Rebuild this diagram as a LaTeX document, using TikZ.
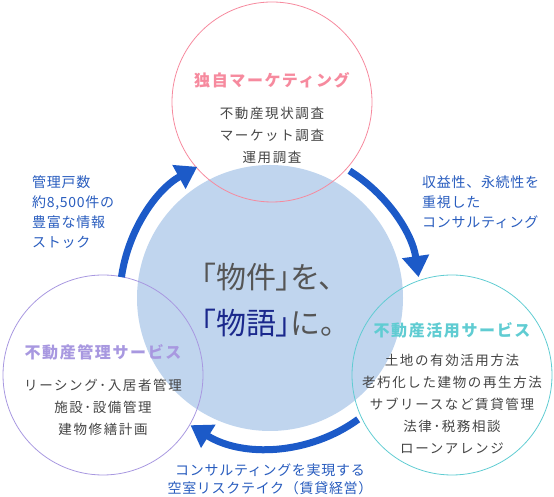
\documentclass[tikz,border=0pt]{standalone}
\usepackage{fontspec}
\usetikzlibrary{arrows.meta,positioning}
\newfontfamily\jp{Noto Sans CJK JP}
\newfontfamily\jpttl[LetterSpace=10]{Noto Sans CJK JP}
\newfontfamily\jpbody[LetterSpace=12]{Noto Sans CJK JP}
\newfontfamily\jpnote[LetterSpace=5]{Noto Sans CJK JP}
\newfontfamily\jpbig[RawFeature=+palt]{Noto Sans CJK JP}
\definecolor{ringblue}{RGB}{192,213,238}
\definecolor{cycblue}{RGB}{28,90,200}
\definecolor{noteblue}{RGB}{40,92,190}
\definecolor{mkpink}{RGB}{246,138,158}
\definecolor{mgpurple}{RGB}{168,152,224}
\definecolor{utteal}{RGB}{96,204,210}
\definecolor{bodygrey}{RGB}{68,68,68}
\definecolor{mottogrey}{RGB}{85,85,85}
\definecolor{mottonavy}{RGB}{26,40,140}

\begin{document}
\begin{tikzpicture}[x=1pt, y=1pt,
    bub/.style={circle, draw, line width=0.8pt, minimum size=200pt, inner sep=0pt},
    ttl/.style={font=\jpttl\bfseries\fontsize{16}{20}\selectfont, inner sep=0pt},
    body/.style={font=\jpbody\fontsize{13.5}{22}\selectfont, bodygrey, align=center, inner sep=0pt},
    note/.style={font=\jpnote\fontsize{14}{20}\selectfont, noteblue, inner sep=0pt},
    cyc/.style={-{Triangle[length=21pt, width=26pt]}, line width=7pt, cycblue}
]
    \useasboundingbox (0,0) rectangle (554,497);

    % Centre disc
    \node[circle, fill=ringblue, minimum size=266pt, inner sep=0pt] (ring) at (270,199) {};
    \node[font=\jpbig\fontsize{30}{46}\selectfont, mottogrey, align=left, anchor=west, inner sep=0pt]
        (motto) at (201,197) {「物件」を、\\{\color{mottonavy}「物語」}に。};

    % Marketing
    \node[bub, draw=mkpink] (mktg) at (272,395) {};
    \node[ttl, mkpink] (mktgT) at (272,417) {独自マーケティング};
    \node[body] (mktgB) at (272,362) {不動産現状調査\\マーケット調査\\運用調査};

    % Management
    \node[bub, draw=mgpurple] (mgmt) at (103,122) {};
    \node[ttl, mgpurple] (mgmtT) at (103,145) {不動産管理サービス};
    \node[body] (mgmtB) at (103,90) {リーシング･入居者管理\\施設･設備管理\\建物修繕計画};

    % Utilisation
    \node[bub, draw=utteal] (util) at (452,122) {};
    \node[ttl, utteal] (utilT) at (452,167) {不動産活用サービス};
    \node[body] (utilB) at (452,93) {土地の有効活用方法\\老朽化した建物の再生方法\\サブリースなど賃貸管理\\法律･税務相談\\ローンアレンジ};

    % Cycle arrows
    \draw[cyc] ([shift={(172:150)}]ring.center) arc[start angle=172, end angle=119, radius=150];
    \draw[cyc] ([shift={(58:150)}]ring.center) arc[start angle=58, end angle=8, radius=150];
    \draw[cyc] ([shift={(-54:150)}]ring.center) arc[start angle=-54, end angle=-122, radius=150];

    % Notes
    \node[note, align=left, anchor=west] (stock) at (32,285) {管理戸数\\約8,500件の\\豊富な情報\\ストック};
    \node[note, align=left, anchor=west] (consult) at (422,295) {収益性、永続性を\\重視した\\コンサルティング};
    \node[note, align=center, font=\jpnote\fontsize{14}{18}\selectfont] (vacancy) at (270,18) {コンサルティングを実現する\\空室リスクテイク（賃貸経営）};
\end{tikzpicture}
\end{document}
